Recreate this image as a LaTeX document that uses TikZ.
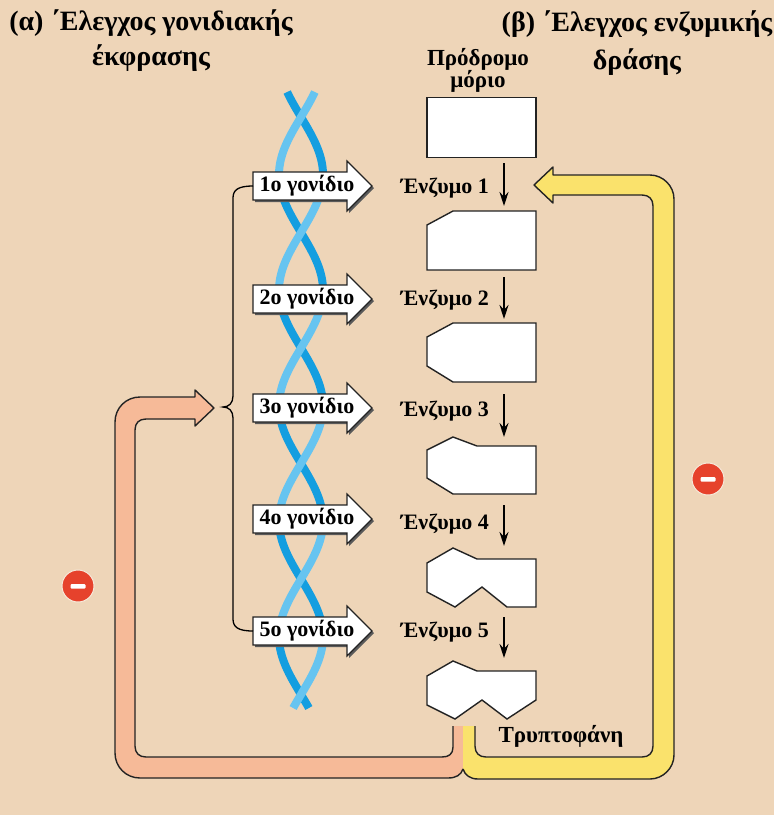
\documentclass[tikz,border=0pt]{standalone}
\usepackage{fontspec}
\setmainfont{Liberation Serif}
\usetikzlibrary{arrows.meta}

\definecolor{bg}{RGB}{238,213,184}
\definecolor{salmon}{RGB}{246,186,152}
\definecolor{sun}{RGB}{250,226,108}
\definecolor{dnadark}{RGB}{20,158,224}
\definecolor{dnalight}{RGB}{102,196,240}
\definecolor{minusred}{RGB}{230,66,44}
\definecolor{edge}{RGB}{35,35,35}

\tikzset{
  title/.style={font=\bfseries\fontsize{28}{35}\selectfont, align=center, inner sep=0pt},
  lbl/.style={font=\bfseries\fontsize{22}{22}\selectfont, inner sep=0pt, align=center},
  molecule/.style={draw=edge, fill=white, line width=1.4pt, line join=miter},
  flow/.style={line width=1.3pt, -{Stealth[length=14pt,width=9pt]}},
  tube/.style={draw=edge, line width=1.4pt, line join=round},
  genebox/.style={draw=edge, fill=white, line width=1.2pt},
  strand/.style={line width=8pt, line cap=butt},
  minus/.style={circle, fill=minusred, draw=bg!50!white, line width=1pt, minimum size=32pt, inner sep=0pt}
}

% gene arrow: name, centre y, label
\newcommand\genearrow[3]{%
  \fill[black!65] (255,#2-12) -- (349,#2-12) -- (349,#2-23) -- (374,#2+2) -- (349,#2+27) -- (349,#2+16) -- (255,#2+16) -- cycle;
  \draw[genebox] (253,#2-14) -- (347,#2-14) -- (347,#2-25) -- (372,#2) -- (347,#2+25) -- (347,#2+14) -- (253,#2+14) -- cycle;
  \node[lbl] (#1) at (307,#2) {#3};
  \coordinate (#1w) at (253,#2);
}

\begin{document}
\begin{tikzpicture}[x=1pt,y=-1pt]
\useasboundingbox (0,0) rectangle (774,815);
\fill[bg] (0,0) rectangle (774,815);

% headings
\node[title] (ta) at (151,41) {(α) ΄Ελεγχος γονιδιακής\\έκφρασης};
\node[title, font=\bfseries\fontsize{28}{38}\selectfont] (tb) at (637,43) {(β) ΄Ελεγχος ενζυμικής\\δράσης};
\node[lbl, font=\bfseries\fontsize{23}{22}\selectfont] (pre-l) at (478,70) {Πρόδρομο\\μόριο};

% feedback tubes (fills)
\fill[salmon] (453,726) -- (453,747) .. controls (453,754) and (449,757) .. (442,757) -- (146,757)
  .. controls (139,757) and (135,753) .. (135,746) -- (135,430) .. controls (135,423) and (139,419) .. (146,419)
  -- (195,419) -- (195,426) -- (214,408) -- (195,390) -- (195,397) -- (140,397)
  .. controls (126,397) and (115,408) .. (115,422) -- (115,753) .. controls (115,767) and (126,778) .. (140,778)
  -- (448,778) .. controls (456,778) and (461,775) .. (463,769) -- (463,726) -- cycle;
\fill[sun] (463,726) -- (475,726) -- (475,746) .. controls (475,753) and (479,757) .. (486,757) -- (642,757)
  .. controls (649,757) and (653,753) .. (653,746) -- (653,206) .. controls (653,199) and (649,195) .. (642,195)
  -- (553,195) -- (553,203) -- (534,185) -- (553,167) -- (553,175) -- (650,175)
  .. controls (663,175) and (674,186) .. (674,199) -- (674,755) .. controls (674,768) and (663,779) .. (650,779)
  -- (478,779) .. controls (470,779) and (465,775) .. (463,769) -- cycle;
% feedback tubes (outlines)
\draw[tube] (453,726) -- (453,747) .. controls (453,754) and (449,757) .. (442,757) -- (146,757)
  .. controls (139,757) and (135,753) .. (135,746) -- (135,430) .. controls (135,423) and (139,419) .. (146,419)
  -- (195,419) -- (195,426) -- (214,408) -- (195,390) -- (195,397) -- (140,397)
  .. controls (126,397) and (115,408) .. (115,422) -- (115,753) .. controls (115,767) and (126,778) .. (140,778)
  -- (448,778) .. controls (456,778) and (461,775) .. (463,769);
\draw[tube] (475,726) -- (475,746) .. controls (475,753) and (479,757) .. (486,757) -- (642,757)
  .. controls (649,757) and (653,753) .. (653,746) -- (653,206) .. controls (653,199) and (649,195) .. (642,195)
  -- (553,195) -- (553,203) -- (534,185) -- (553,167) -- (553,175) -- (650,175)
  .. controls (663,175) and (674,186) .. (674,199) -- (674,755) .. controls (674,768) and (663,779) .. (650,779)
  -- (478,779) .. controls (470,779) and (465,775) .. (463,769);

% inhibition marks
\node[minus] (m1) at (78,586) {};
\fill[white, rounded corners=1pt] (70.5,584) rectangle (85.5,588.5);
\node[minus] (m2) at (708,479) {};
\fill[white, rounded corners=1pt] (700.5,477) rectangle (715.5,481.5);

% double helix (phase in degrees: 1.5584 deg per unit of height, half turn = 115.5)
\foreach \a/\b in {92/174.75,290.25/405.75,521.25/636.75}{
  \draw[strand, dnadark] plot[domain=\a:\b, samples=40, variable=\t] ({301+22*sin((\t-117)*1.5584)},\t);
}
\foreach \a/\b in {174.75/290.25,405.75/521.25,636.75/708}{
  \draw[strand, dnadark] plot[domain=\a:\b, samples=40, variable=\t] ({301-22*sin((\t-117)*1.5584)},\t);
}
\foreach \a/\b in {92/174.75,290.25/405.75,521.25/636.75}{
  \draw[strand, dnalight] plot[domain=\a:\b, samples=40, variable=\t] ({301-22*sin((\t-117)*1.5584)},\t);
}
\foreach \a/\b in {174.75/290.25,405.75/521.25,636.75/708}{
  \draw[strand, dnalight] plot[domain=\a:\b, samples=40, variable=\t] ({301+22*sin((\t-117)*1.5584)},\t);
}

% genes
\genearrow{g1}{186}{1ο γονίδιο}
\genearrow{g2}{299}{2ο γονίδιο}
\genearrow{g3}{408}{3ο γονίδιο}
\genearrow{g4}{519}{4ο γονίδιο}
\genearrow{g5}{631}{5ο γονίδιο}

% brace grouping the genes
\draw[line width=1.3pt] (g1w) .. controls (238,186) and (233,190) .. (233,198) -- (233,396)
  .. controls (233,403) and (229,407) .. (223,407) .. controls (229,407) and (233,411) .. (233,418)
  -- (233,619) .. controls (233,627) and (238,631) .. (g5w);

% precursor and intermediates
\node[molecule, minimum width=109pt, minimum height=60pt] (p0) at (481.5,127.5) {};
\draw[molecule] (453,211) -- (536,211) -- (536,270) -- (427,270) -- (427,225) -- cycle;
\draw[molecule] (453,323) -- (536,323) -- (536,382) -- (453,382) -- (427,366) -- (427,337) -- cycle;
\draw[molecule] (427,450) -- (453,437) -- (477,446) -- (536,446) -- (536,494) -- (453,494) -- (427,478) -- cycle;
\draw[molecule] (427,563) -- (453,548) -- (477,559) -- (536,559) -- (536,607) -- (507,607) -- (482,587) -- (455,607) -- (427,592) -- cycle;
\draw[molecule] (427,676) -- (453,661) -- (477,671) -- (536,671) -- (536,700) -- (507,719) -- (482,700) -- (455,719) -- (427,705) -- cycle;

\coordinate (s1) at (504,163); \coordinate (e1) at (504,206);
\coordinate (s2) at (504,277); \coordinate (e2) at (504,319);
\coordinate (s3) at (504,394); \coordinate (e3) at (504,437);
\coordinate (s4) at (504,505); \coordinate (e4) at (504,546);
\coordinate (s5) at (504,617); \coordinate (e5) at (504,658);
\foreach \i in {1,...,5}{ \draw[flow] (s\i) -- (e\i); }

\node[lbl, anchor=east] (z1) at (489,188) {Ένζυμο 1};
\node[lbl, anchor=east] (z2) at (489,300) {Ένζυμο 2};
\node[lbl, anchor=east] (z3) at (489,411) {Ένζυμο 3};
\node[lbl, anchor=east] (z4) at (489,524) {Ένζυμο 4};
\node[lbl, anchor=east] (z5) at (489,632) {Ένζυμο 5};

\node[lbl, font=\bfseries\fontsize{23}{22}\selectfont] (trp) at (561,736) {Τρυπτοφάνη};
\end{tikzpicture}
\end{document}
